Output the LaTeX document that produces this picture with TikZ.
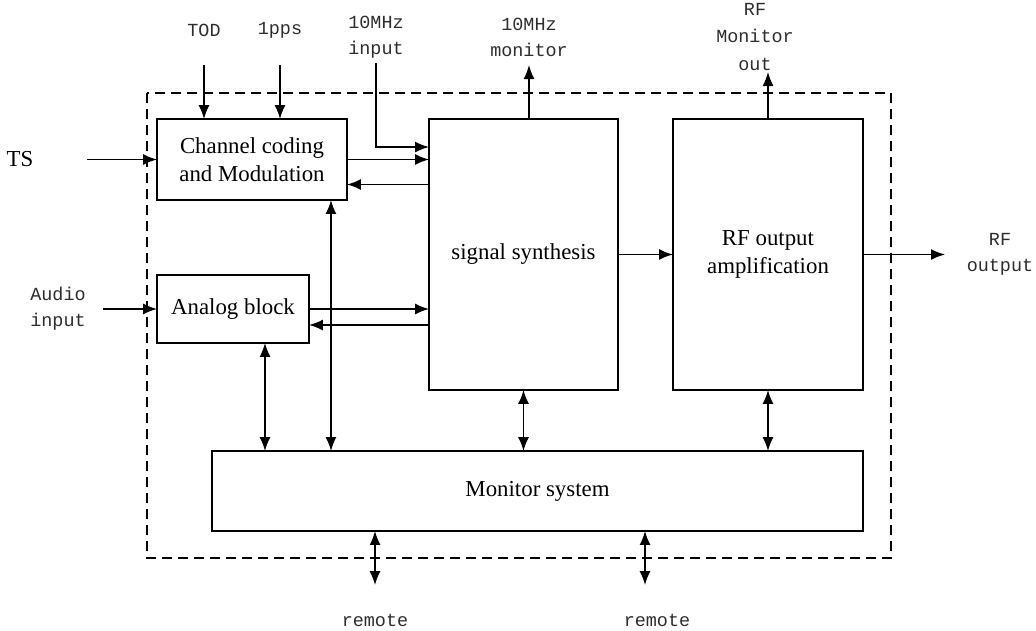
\documentclass[tikz,border=0pt]{standalone}
\usepackage{fontspec}
\setmainfont{Liberation Serif}
\newfontfamily\lblfont{Liberation Mono}
\usepackage{tikz}
\usetikzlibrary{arrows.meta, calc}
\definecolor{lblgray}{RGB}{45,45,45}
\tikzset{
  block/.style={rectangle, draw, inner sep=0pt, outer sep=0pt,
    align=center, font=\fontsize{13}{15.6}\selectfont, line width=0.85pt},
  lbl/.style={align=center, font=\lblfont\fontsize{10.5}{14.7}\selectfont,
    text=lblgray, inner sep=2pt},
  arrow/.style={-{Latex[length=2.8mm,width=2.2mm]}, line width=0.85pt},
  dblarrow/.style={{Latex[length=2.8mm,width=2.2mm]}-{Latex[length=2.8mm,width=2.2mm]}, line width=0.85pt},
  dashframe/.style={dash pattern=on 2mm off 1.2mm, line width=0.6pt}
}
\begin{document}
\begin{tikzpicture}[x=0.02cm, y=-0.02cm]
  \useasboundingbox (0,0) rectangle (1036,630);

  % Transmitter frame
  \draw[dashframe] (147,93) rectangle (891,558);

  % Blocks
  \node[block, minimum width=3.8cm, minimum height=1.62cm] (ch) at (252,159.5) {Channel coding\\and Modulation};
  \node[block, minimum width=3.04cm, minimum height=1.36cm] (ana) at (233,309) {Analog block};
  \node[block, minimum width=3.78cm, minimum height=5.42cm] (syn) at (523.5,254.5) {signal synthesis};
  \node[block, minimum width=3.8cm, minimum height=5.42cm] (rfa) at (768,254.5) {RF output\\amplification};
  \node[block, minimum width=13.02cm, minimum height=1.6cm] (mon) at (537.5,491) {Monitor system};

  % Outside labels
  \node[font=\fontsize{13}{15}\selectfont] (ts) at (20,159.5) {TS};
  \node[lbl] (tod) at (204,30) {TOD};
  \node[lbl] (pps) at (280,30) {1pps};
  \node[lbl] (tenin) at (376,37) {10MHz\\input};
  \node[lbl] (tenmon) at (529,37) {10MHz\\monitor};
  \node[lbl, font=\lblfont\fontsize{10.5}{15.9}\selectfont] (rfmon) at (755,37) {RF\\Monitor\\out};
  \node[lbl] (rfout) at (1000,254.5) {RF\\output};
  \node[lbl] (audio) at (58,309) {Audio\\input};
  \node[lbl] (rem1) at (375,620) {remote};
  \node[lbl] (rem2) at (657,620) {remote};

  % Inputs
  \draw[arrow] ($(tod)+(0,35)$) -- (tod |- ch.north);
  \draw[arrow] ($(pps)+(0,35)$) -- (pps |- ch.north);
  \draw[arrow] ($(tenin)+(0,26)$) |- ($(syn.north west)+(0,28)$);
  \draw[arrow] ($(ts)+(67,0)$) -- (ch.west);
  \draw[arrow] ($(audio)+(45,0)$) -- (ana.west);

  % Between blocks
  \draw[arrow] (ch.east) -- (ch.east -| syn.west);
  \draw[arrow] ($(ch.east -| syn.west)+(0,25)$) -- ($(ch.east)+(0,25)$);
  \draw[arrow] (ana.east) -- (ana.east -| syn.west);
  \draw[arrow] ($(ana.east -| syn.west)+(0,16)$) -- ($(ana.east)+(0,16)$);
  \draw[arrow] (syn) -- (rfa);

  % Outputs
  \draw[arrow] (tenmon |- syn.north) -- ($(tenmon)+(0,28)$);
  \draw[arrow] (rfa.north) -- ($(rfa.north |- rfmon)+(0,35)$);
  \draw[arrow] (rfa.east) -- ($(rfout)+(-55,0)$);

  % Monitor links
  \coordinate (anamon) at ($(ana.south)+(32,0)$);
  \coordinate (chmon) at ($(ch.south east)+(-16,0)$);
  \draw[dblarrow] (anamon) -- (anamon |- mon.north);
  \draw[dblarrow] (chmon) -- (chmon |- mon.north);
  \draw[dblarrow] (syn.south) -- (syn.south |- mon.north);
  \draw[dblarrow] (rfa.south) -- (rfa.south |- mon.north);

  % Remote links
  \coordinate (remtop1) at ($(rem1)+(0,-35)$);
  \coordinate (remtop2) at ($(rem2)+(-12,-35)$);
  \draw[dblarrow] (remtop1 |- mon.south) -- (remtop1);
  \draw[dblarrow] (remtop2 |- mon.south) -- (remtop2);

\end{tikzpicture}
\end{document}
